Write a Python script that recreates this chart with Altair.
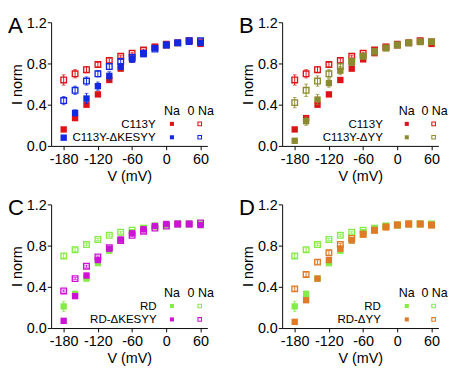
import altair as alt
import pandas as pd

# ---------------- data ----------------
V = [-180, -160, -140, -120, -100, -80, -60, -40, -20, 0, 20, 40, 60]

c113y_na = [0.16, 0.27, 0.40, 0.50, 0.64, 0.75, 0.84, 0.90, 0.96, 0.99, 1.00, 1.01, 0.99]
c113y_0na = [0.64, 0.70, 0.74, 0.79, 0.83, 0.87, 0.90, 0.93, 0.96, 0.98, 1.00, 1.02, 1.01]
c113y_na_err = [0.01, 0.02, 0.02, 0.02, 0.02, 0.02, 0.01, 0.01, 0.01, 0.0, 0.0, 0.0, 0.0]
c113y_0na_err = [0.05, 0.04, 0.03, 0.02, 0.02, 0.01, 0.01, 0.01, 0.0, 0.0, 0.0, 0.0, 0.0]

kesyy_na = [0.08, 0.32, 0.46, 0.58, 0.68, 0.77, 0.84, 0.89, 0.95, 0.98, 1.00, 1.01, 1.00]
kesyy_0na = [0.44, 0.54, 0.63, 0.70, 0.77, 0.82, 0.86, 0.90, 0.94, 0.98, 1.00, 1.02, 1.02]
kesyy_na_err = [0.01, 0.03, 0.05, 0.04, 0.04, 0.03, 0.03, 0.02, 0.01, 0.01, 0.01, 0.01, 0.01]
kesyy_0na_err = [0.04, 0.04, 0.04, 0.03, 0.03, 0.02, 0.02, 0.01, 0.01, 0.01, 0.0, 0.0, 0.0]

dyy_na = [0.05, 0.24, 0.45, 0.61, 0.73, 0.81, 0.87, 0.92, 0.95, 0.98, 1.00, 1.01, 1.01]
dyy_0na = [0.42, 0.54, 0.63, 0.70, 0.77, 0.82, 0.87, 0.91, 0.95, 0.98, 1.00, 1.01, 1.01]
dyy_na_err = [0.01, 0.04, 0.05, 0.04, 0.04, 0.03, 0.02, 0.01, 0.01, 0.0, 0.0, 0.0, 0.0]
dyy_0na_err = [0.05, 0.06, 0.05, 0.04, 0.03, 0.02, 0.02, 0.01, 0.01, 0.0, 0.0, 0.0, 0.0]

rd_na = [0.21, 0.33, 0.48, 0.63, 0.75, 0.85, 0.93, 0.97, 0.99, 1.00, 1.01, 1.01, 1.00]
rd_0na = [0.70, 0.76, 0.81, 0.86, 0.90, 0.93, 0.95, 0.97, 0.99, 1.00, 1.01, 1.01, 1.01]
rd_na_err = [0.05, 0.03, 0.02, 0.02, 0.02, 0.01, 0.01, 0.0, 0.0, 0.0, 0.0, 0.0, 0.0]
rd_0na_err = [0.02, 0.02, 0.01, 0.01, 0.01, 0.01, 0.0, 0.0, 0.0, 0.0, 0.0, 0.0, 0.0]

rdk_na = [0.07, 0.31, 0.51, 0.66, 0.77, 0.86, 0.92, 0.96, 0.99, 1.01, 1.01, 1.01, 1.00]
rdk_0na = [0.36, 0.48, 0.60, 0.69, 0.78, 0.85, 0.90, 0.94, 0.97, 0.99, 1.01, 1.01, 1.02]
rdk_na_err = [0.01, 0.02, 0.02, 0.02, 0.01, 0.01, 0.01, 0.01, 0.0, 0.0, 0.01, 0.0, 0.0]
rdk_0na_err = [0.01, 0.01, 0.01, 0.01, 0.01, 0.01, 0.01, 0.01, 0.0, 0.0, 0.01, 0.01, 0.0]

rdy_na = [0.06, 0.27, 0.48, 0.66, 0.77, 0.85, 0.91, 0.95, 0.98, 1.00, 1.01, 1.01, 1.00]
rdy_0na = [0.38, 0.52, 0.64, 0.73, 0.81, 0.87, 0.91, 0.95, 0.98, 1.00, 1.01, 1.01, 1.00]
rdy_na_err = [0.01, 0.02, 0.02, 0.02, 0.01, 0.01, 0.01, 0.01, 0.01, 0.01, 0.01, 0.01, 0.01]
rdy_0na_err = [0.02, 0.02, 0.02, 0.02, 0.01, 0.01, 0.01, 0.01, 0.01, 0.01, 0.01, 0.01, 0.01]

COLORS = {
    "C113Y": "#dc1418",
    "C113Y-ΔKESYY": "#1428e0",
    "C113Y-ΔYY": "#8c8a2e",
    "RD": "#84ec48",
    "RD-ΔKESYY": "#cc14d4",
    "RD-ΔYY": "#e07a26",
}

# ---------------- styling ----------------
REG = "Liberation Sans, Arial, sans-serif"
W, H = 163, 129
XDOM = [-202, 72]


def long_df(name, na, zna, na_err, zna_err):
    rows = []
    for v, a, b, ea, eb in zip(V, na, zna, na_err, zna_err):
        rows.append(dict(V=v, I=a, err=ea, lo=a - ea, hi=a + ea, series=name, cond="Na"))
        rows.append(dict(V=v, I=b, err=eb, lo=b - eb, hi=b + eb, series=name, cond="0 Na"))
    return pd.DataFrame(rows)


def series_layers(df, name, show_axes):
    color = alt.Color("series:N",
                      scale=alt.Scale(domain=list(COLORS.keys()), range=list(COLORS.values())),
                      legend=None)
    if show_axes:
        xenc = alt.X("V:Q", scale=alt.Scale(domain=XDOM, nice=False, zero=False),
                     axis=alt.Axis(values=[-180, -150, -120, -90, -60, -30, 0, 30, 60],
                                   labelExpr="datum.value % 60 == 0 ? toString(datum.value) : ''",
                                   title="V (mV)"))
        yenc = alt.Y("I:Q", scale=alt.Scale(domain=[0, 1.2], nice=False),
                     axis=alt.Axis(values=[0, 0.2, 0.4, 0.6, 0.8, 1.0, 1.2],
                                   labelExpr="round(datum.value*10) % 4 == 0 ? format(datum.value, '.1f') : ''",
                                   title="I norm"))
    else:
        xenc = alt.X("V:Q", scale=alt.Scale(domain=XDOM, nice=False, zero=False))
        yenc = alt.Y("I:Q", scale=alt.Scale(domain=[0, 1.2], nice=False))
    base = alt.Chart(df)
    eb = base.transform_filter("datum.err > 0")
    rule = eb.mark_rule(strokeWidth=1).encode(
        x=alt.X("V:Q"), y=alt.Y("lo:Q"), y2="hi:Q", color=color)
    cap_lo = eb.mark_tick(orient="horizontal", size=4, thickness=1).encode(
        x=alt.X("V:Q"), y=alt.Y("lo:Q"), color=color)
    cap_hi = eb.mark_tick(orient="horizontal", size=4, thickness=1).encode(
        x=alt.X("V:Q"), y=alt.Y("hi:Q"), color=color)
    opn = base.transform_filter("datum.cond == '0 Na'").mark_square(
        filled=False, size=34, strokeWidth=1.4, opacity=1).encode(
        x=xenc, y=yenc, stroke=color)
    fil = base.transform_filter("datum.cond == 'Na'").mark_square(
        filled=True, size=44, opacity=1).encode(x=alt.X("V:Q"), y=alt.Y("I:Q"), color=color)
    return [opn, rule, cap_lo, cap_hi, fil]


def txt(s, x, y, align="center", size=12, font=REG):
    return alt.Chart(pd.DataFrame({"t": [s]})).mark_text(
        align=align, baseline="middle", fontSize=size, font=font, color="black").encode(
        text="t:N", x=alt.value(x), y=alt.value(y))


def marker(x, y, color, filled):
    if filled:
        m = alt.Chart(pd.DataFrame({"k": [0]})).mark_square(filled=True, size=18, color=color, opacity=1)
    else:
        m = alt.Chart(pd.DataFrame({"k": [0]})).mark_square(filled=False, size=14, strokeWidth=1.1,
                                                           color=color, opacity=1)
    return m.encode(x=alt.value(x), y=alt.value(y))


def panel(letter, ctrl, ctrl_data, mut, mut_data, lab_x, col_x):
    d1 = long_df(ctrl, *ctrl_data)
    d2 = long_df(mut, *mut_data)
    layers = series_layers(d1, ctrl, True) + series_layers(d2, mut, False)
    fx, ox = col_x
    yh, y1, y2 = H - 36, H - 23, H - 9
    layers += [
        txt("Na", fx, yh, size=13), txt("0 Na", ox + 1, yh, size=13),
        txt(ctrl, lab_x, y1, align="right"), txt(mut, lab_x, y2, align="right"),
        marker(fx, y1, COLORS[ctrl], True), marker(ox, y1, COLORS[ctrl], False),
        marker(fx, y2, COLORS[mut], True), marker(ox, y2, COLORS[mut], False),
        alt.Chart(pd.DataFrame({"t": [letter]})).mark_text(
            align="left", baseline="top", fontSize=23, font=REG, color="black").encode(
            text="t:N", x=alt.value(-45), y=alt.value(-7)),
    ]
    return alt.layer(*layers).properties(width=W, height=H)


c113y = (c113y_na, c113y_0na, c113y_na_err, c113y_0na_err)
kesyy = (kesyy_na, kesyy_0na, kesyy_na_err, kesyy_0na_err)
dyy = (dyy_na, dyy_0na, dyy_na_err, dyy_0na_err)
rd = (rd_na, rd_0na, rd_na_err, rd_0na_err)
rdk = (rdk_na, rdk_0na, rdk_na_err, rdk_0na_err)
rdy = (rdy_na, rdy_0na, rdy_na_err, rdy_0na_err)

pA = panel("A", "C113Y", c113y, "C113Y-ΔKESYY", kesyy, 109, (126, 155))
pB = panel("B", "C113Y", c113y, "C113Y-ΔYY", dyy, 105, (130, 158))
pC = panel("C", "RD", rd, "RD-ΔKESYY", rdk, 110, (126, 155))
pD = panel("D", "RD", rd, "RD-ΔYY", rdy, 103, (130, 158))

chart = alt.concat(pA, pB, pC, pD, columns=2, spacing={"row": 15, "column": 26}).properties(
    padding=0
).configure_view(stroke=None).configure_axis(
    grid=False, domainColor="black", tickColor="black", labelColor="black", titleColor="black",
    domainWidth=1, tickWidth=1, tickSize=4, labelFont=REG, titleFont=REG,
    labelFontSize=15, titleFontSize=15, titleFontWeight="normal", labelOverlap=False,
    labelFlush=False
).configure_axisY(labelPadding=1, titlePadding=2).configure_axisX(labelPadding=2, titlePadding=3)

chart.save("out.html", embed_options={"renderer": "svg", "actions": False})
